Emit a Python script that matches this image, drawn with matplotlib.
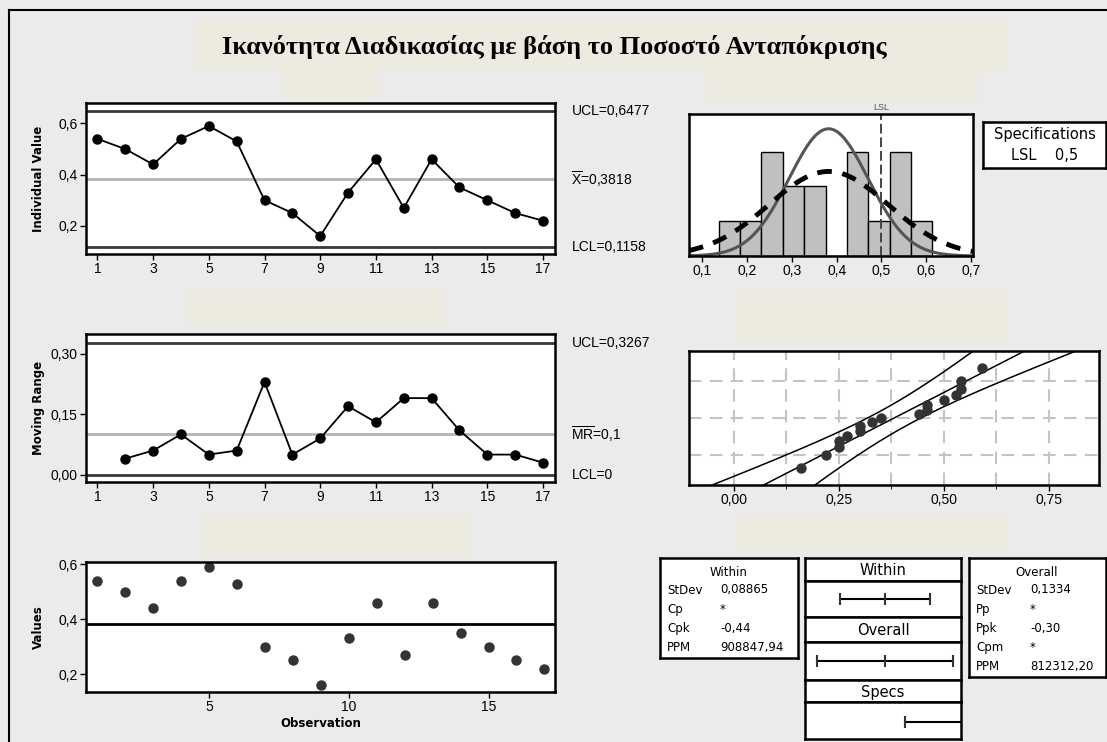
import numpy as np
import matplotlib
matplotlib.use('Agg')
import matplotlib.pyplot as plt
from matplotlib.patches import Rectangle
from matplotlib.lines import Line2D
from matplotlib.ticker import FuncFormatter, MultipleLocator
from statistics import NormalDist

plt.rcParams['font.family'] = ['Liberation Sans', 'DejaVu Sans']
plt.rcParams['mathtext.fontset'] = 'custom'
plt.rcParams['mathtext.rm'] = 'Liberation Sans'

title = 'Ικανότητα Διαδικασίας με βάση το Ποσοστό Ανταπόκρισης'

# ποσοστά απόκρισης ανά παρατήρηση
observation = list(range(1, 18))
values = [0.54, 0.50, 0.44, 0.54, 0.59, 0.53, 0.30, 0.25, 0.16,
          0.33, 0.46, 0.27, 0.46, 0.35, 0.30, 0.25, 0.22]

# κινητά εύρη (από τη 2η παρατήρηση)
mr_observation = list(range(2, 18))
mr_values = [0.04, 0.06, 0.10, 0.05, 0.06, 0.23, 0.05, 0.09,
             0.17, 0.13, 0.19, 0.19, 0.11, 0.05, 0.05, 0.03]

x_bar, ucl_i, lcl_i = 0.3818, 0.6477, 0.1158
mr_bar, ucl_mr, lcl_mr = 0.1, 0.3267, 0.0
lsl = 0.5
sd_within = 0.08865
sd_overall = 0.1334

within_rows = [('StDev', '0,08865'), ('Cp', '*'), ('Cpk', '-0,44'), ('PPM', '908847,94')]
overall_rows = [('StDev', '0,1334'), ('Pp', '*'), ('Ppk', '-0,30'), ('Cpm', '*'), ('PPM', '812312,20')]

W, H = 1107, 742
BG = '#ebebeb'
BEIGE = '#edebe0'
fig = plt.figure(figsize=(W / 100, H / 100), dpi=100)
fig.patch.set_facecolor(BG)


def box(x0, y0, x1, y1):
    # pixel box -> figure fraction
    return [x0 / W, 1 - y1 / H, (x1 - x0) / W, (y1 - y0) / H]


def patch(x0, y0, x1, y1, color):
    fig.add_artist(Rectangle((x0 / W, 1 - y1 / H), (x1 - x0) / W, (y1 - y0) / H,
                             transform=fig.transFigure, facecolor=color,
                             edgecolor='none', zorder=0))


def ftext(x, y, s, **kw):
    fig.text(x / W, 1 - y / H, s, **kw)


def comma(fmt):
    return FuncFormatter(lambda v, p: format(v, fmt).replace('.', ','))


def style(ax):
    ax.set_facecolor('white')
    for s in ax.spines.values():
        s.set_linewidth(1.8)
        s.set_color('black')
    ax.tick_params(direction='out', length=4, width=1, labelsize=10, pad=2)


# πλαίσιο
fig.add_artist(Line2D([9 / W, 1], [1 - 10 / H, 1 - 10 / H], transform=fig.transFigure, color='black', lw=1.5))
fig.add_artist(Line2D([9 / W, 9 / W], [0, 1 - 10 / H], transform=fig.transFigure, color='black', lw=1.5))

# πλαίσια τίτλων
patch(196, 20, 1008, 72, BEIGE)
patch(281, 72, 377, 100, BEIGE)
patch(706, 72, 977, 100, BEIGE)
patch(187, 290, 442, 327, BEIGE)
patch(737, 290, 1008, 343, BEIGE)
patch(201, 515, 469, 557, BEIGE)
patch(737, 515, 1008, 547, BEIGE)

ftext(554, 47, title, family='Liberation Serif', weight='bold', fontsize=19,
      ha='center', va='center')

label_kw = dict(family='DejaVu Sans', weight='bold', fontsize=8.5)

# I chart
ax1 = fig.add_axes(box(86, 103, 555, 254))
style(ax1)
ax1.axhline(ucl_i, color='#3a3a3a', lw=2)
ax1.axhline(lcl_i, color='#3a3a3a', lw=2)
ax1.axhline(x_bar, color='#b4b4b4', lw=2)
ax1.plot(observation, values, color='black', lw=1.3, marker='o', ms=6.5)
ax1.set_xlim(0.59, 17.43)
ax1.set_ylim(0.09, 0.68)
ax1.set_xticks(range(1, 18, 2))
ax1.set_yticks([0.2, 0.4, 0.6])
ax1.yaxis.set_major_formatter(comma('.1f'))
ax1.set_ylabel('Individual Value', **label_kw)
ax1.yaxis.set_label_coords(-0.087, 0.5)
t1 = ax1.get_yaxis_transform()
ax1.text(1.035, ucl_i, 'UCL=0,6477', transform=t1, va='center', fontsize=10)
ax1.text(1.035, x_bar, r'$\overline{\mathrm{X}}$=0,3818', transform=t1, va='center', fontsize=10)
ax1.text(1.035, lcl_i, 'LCL=0,1158', transform=t1, va='center', fontsize=10)

# Moving range chart
ax2 = fig.add_axes(box(86, 334, 555, 482))
style(ax2)
ax2.axhline(ucl_mr, color='#3a3a3a', lw=2)
ax2.axhline(lcl_mr, color='#3a3a3a', lw=2)
ax2.axhline(mr_bar, color='#b4b4b4', lw=2)
ax2.plot(mr_observation, mr_values, color='black', lw=1.3, marker='o', ms=6.5)
ax2.set_xlim(0.59, 17.43)
ax2.set_ylim(-0.018, 0.349)
ax2.set_xticks(range(1, 18, 2))
ax2.set_yticks([0.0, 0.15, 0.30])
ax2.yaxis.set_major_formatter(comma('.2f'))
ax2.set_ylabel('Moving Range', **label_kw)
ax2.yaxis.set_label_coords(-0.087, 0.5)
t2 = ax2.get_yaxis_transform()
ax2.text(1.035, ucl_mr, 'UCL=0,3267', transform=t2, va='center', fontsize=10)
ax2.text(1.035, mr_bar, r'$\overline{\mathrm{MR}}$=0,1', transform=t2, va='center', fontsize=10)
ax2.text(1.035, lcl_mr, 'LCL=0', transform=t2, va='center', fontsize=10)

# τελευταίες παρατηρήσεις
ax3 = fig.add_axes(box(86, 562, 555, 692))
style(ax3)
ax3.axhline(x_bar, color='black', lw=2)
ax3.plot(observation, values, ls='none', marker='o', ms=6.5, color='#333333')
ax3.set_xlim(0.59, 17.38)
ax3.set_ylim(0.135, 0.6085)
ax3.set_xticks([5, 10, 15])
ax3.set_yticks([0.2, 0.4, 0.6])
ax3.yaxis.set_major_formatter(comma('.1f'))
ax3.set_ylabel('Values', **label_kw)
ax3.yaxis.set_label_coords(-0.087, 0.5)
ax3.set_xlabel('Observation', labelpad=2, **label_kw)

# ιστόγραμμα
axh = fig.add_axes(box(689, 114, 973, 256))
style(axh)
n = len(values)
w = (max(values) - min(values)) / 9
edges = min(values) - w / 2 + w * np.arange(11)
axh.hist(values, bins=edges, color='#c0c0c0', edgecolor='black', lw=1)
xs = np.linspace(0.07, 0.7045, 400)
pdf_w = np.exp(-0.5 * ((xs - x_bar) / sd_within) ** 2) / (sd_within * np.sqrt(2 * np.pi))
pdf_o = np.exp(-0.5 * ((xs - x_bar) / sd_overall) ** 2) / (sd_overall * np.sqrt(2 * np.pi))
axh.plot(xs, n * w * pdf_w, color='#555555', lw=2.2)
axh.plot(xs, n * w * pdf_o, color='black', lw=3.5, dashes=(3, 2.2))
axh.axvline(lsl, color='#444444', lw=1.4, dashes=(5, 2))
axh.text(lsl, 1.015, 'LSL', transform=axh.get_xaxis_transform(), ha='center', va='bottom',
         fontsize=6.5, color='#555555')
axh.set_xlim(0.07, 0.7045)
axh.set_ylim(0, 4.08)
axh.set_yticks([])
axh.set_xticks(np.arange(0.1, 0.75, 0.1))
axh.xaxis.set_major_formatter(comma('.1f'))

axs = fig.add_axes(box(983, 122, 1106, 168))
style(axs)
axs.set_xticks([])
axs.set_yticks([])
axs.text(0.5, 0.72, 'Specifications', ha='center', va='center', fontsize=10.5, family='DejaVu Sans')
axs.text(0.5, 0.27, 'LSL    0,5', ha='center', va='center', fontsize=10.5, family='DejaVu Sans')

# κανονικό διάγραμμα πιθανότητας
nd = NormalDist()
axp = fig.add_axes(box(689, 351, 1099, 485))
style(axp)
sorted_vals = np.sort(values)
ranks = (np.arange(1, n + 1) - 0.3) / (n + 0.4)
zq = np.array([nd.inv_cdf(p) for p in ranks])
zz = np.linspace(-2.4, 2.4, 200)
fit = x_bar + sd_overall * zz
half = 1.96 * sd_overall * np.sqrt((1 + zz ** 2 / 2) / n)
axp.plot(fit, zz, color='black', lw=1.1)
axp.plot(fit - half, zz, color='black', lw=1.1)
axp.plot(fit + half, zz, color='black', lw=1.1)
axp.plot(sorted_vals, zq, ls='none', marker='o', ms=6.5, color='#333333', zorder=5)
axp.set_xlim(-0.106, 0.869)
axp.set_ylim(nd.inv_cdf(0.01), nd.inv_cdf(0.99))
axp.set_xticks([0, 0.25, 0.5, 0.75])
axp.xaxis.set_minor_locator(MultipleLocator(0.125))
axp.xaxis.set_major_formatter(comma('.2f'))
axp.set_yticks([nd.inv_cdf(0.1), 0, nd.inv_cdf(0.9)])
axp.tick_params(axis='y', length=0, labelleft=False)
axp.tick_params(axis='x', which='minor', length=3)
axp.grid(True, which='both', color='#c4c4c4', lw=1.5, dashes=(6, 4))
axp.set_axisbelow(True)

# πίνακες δεικτών ικανότητας
axw = fig.add_axes(box(660, 558, 798, 658))
style(axw)
axw.set_xticks([])
axw.set_yticks([])
ftext(729, 572, 'Within', ha='center', va='center', fontsize=8.5, family='DejaVu Sans')
for i, (k, v) in enumerate(within_rows):
    y = 590 + i * 19.3
    ftext(667, y, k, va='center', fontsize=8.5, family='DejaVu Sans')
    ftext(720, y, v, va='center', fontsize=8.5, family='DejaVu Sans')

axo = fig.add_axes(box(969, 558, 1106, 677))
style(axo)
axo.set_xticks([])
axo.set_yticks([])
ftext(1037, 572, 'Overall', ha='center', va='center', fontsize=8.5, family='DejaVu Sans')
for i, (k, v) in enumerate(overall_rows):
    y = 590 + i * 19.2
    ftext(976, y, k, va='center', fontsize=8.5, family='DejaVu Sans')
    ftext(1030, y, v, va='center', fontsize=8.5, family='DejaVu Sans')

# διαστήματα
rows = [(558, 581, 617, 'Within', (x_bar - 3 * sd_within, x_bar, x_bar + 3 * sd_within)),
        (617, 642, 680, 'Overall', (x_bar - 3 * sd_overall, x_bar, x_bar + 3 * sd_overall)),
        (680, 702, 739, 'Specs', None)]
for top, mid, bot, name, marks in rows:
    hdr = fig.add_axes(box(805, top, 961, mid))
    style(hdr)
    hdr.set_xticks([])
    hdr.set_yticks([])
    hdr.text(0.5, 0.45, name, ha='center', va='center', fontsize=10.5, family='DejaVu Sans',
             transform=hdr.transAxes)
    iv = fig.add_axes(box(805, mid, 961, bot))
    style(iv)
    iv.set_xticks([])
    iv.set_yticks([])
    iv.set_xlim(-0.091, 0.831)
    iv.set_ylim(0, 1)
    if marks is not None:
        iv.plot([marks[0], marks[2]], [0.5, 0.5], color='black', lw=1.5)
        iv.plot(marks, [0.5] * 3, ls='none', marker='|', ms=8, mew=1.5, color='#333333')
    else:
        iv.plot([lsl, 0.831], [0.45, 0.45], color='black', lw=1.5)
        iv.plot([lsl], [0.45], ls='none', marker='|', ms=8, mew=1.5, color='#333333')

fig.savefig('out.png', dpi=100, facecolor=fig.get_facecolor())
